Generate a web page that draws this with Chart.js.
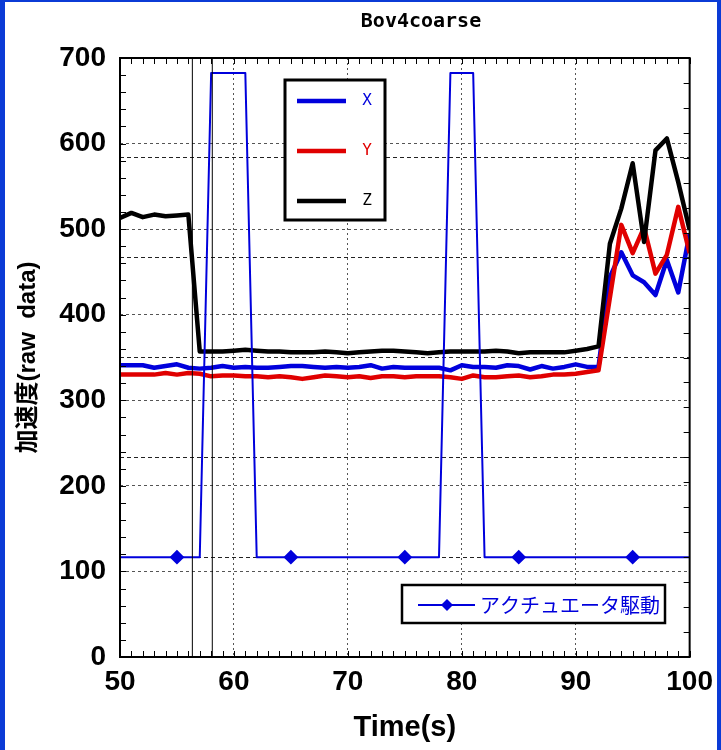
<!DOCTYPE html>
<html>
<head>
<meta charset="utf-8">
<script src="https://cdn.jsdelivr.net/npm/chart.js@4.4.1/dist/chart.umd.min.js"></script>
<style>
  body { margin: 0; background: #fff; }
  #wrap { position: relative; width: 721px; height: 750px; }
  #frame {
    position: absolute; left: 0; top: 0; width: 721px; height: 750px;
    box-sizing: border-box; pointer-events: none;
    border-left: 5px solid #0b3bd6; border-top: 2px solid #0b3bd6; border-right: 4px solid #0b3bd6;
  }
</style>
</head>
<body>
<div id="wrap">
  <canvas id="chart" width="721" height="750"></canvas>
  <div id="frame"></div>
</div>
<script>
// time axis (s)
const times = [50, 51, 52, 53, 54, 55, 56, 57, 58, 59, 60, 61, 62, 63, 64, 65, 66, 67, 68, 69,
  70, 71, 72, 73, 74, 75, 76, 77, 78, 79, 80, 81, 82, 83, 84, 85, 86, 87, 88, 89,
  90, 91, 92, 93, 94, 95, 96, 97, 98, 99, 100];

// acceleration raw data
const accX = [341, 341, 341, 338, 340, 342, 338, 337, 338, 340, 338, 339, 338, 338, 339, 340, 340, 339, 338, 339,
  338, 339, 341, 337, 339, 338, 338, 338, 338, 335, 341, 339, 339, 338, 341, 340, 336, 340, 337, 339,
  342, 339, 339, 444, 473, 446, 438, 423, 464, 426, 495];
const accY = [330, 330, 330, 330, 332, 330, 332, 331, 328, 329, 329, 328, 328, 327, 328, 327, 325, 327, 329, 328,
  327, 328, 326, 328, 328, 327, 328, 328, 328, 327, 325, 329, 327, 327, 328, 329, 327, 328, 330, 330,
  331, 333, 335, 420, 505, 472, 502, 448, 470, 526, 472];
const accZ = [513, 519, 514, 517, 515, 516, 517, 357, 357, 357, 358, 359, 358, 357, 357, 356, 356, 356, 357, 356,
  355, 356, 357, 358, 358, 357, 356, 355, 356, 357, 357, 357, 357, 358, 357, 355, 356, 356, 356, 356,
  358, 360, 363, 483, 524, 577, 485, 592, 606, 555, 499];

// actuator drive signal (right hidden axis)
const actTimes = [50, 55, 57, 58, 61, 62, 65, 75, 78, 79, 81, 82, 85, 95, 100];
const actValues = [1, 1, 1, 5.85, 5.85, 1, 1, 1, 1, 5.85, 5.85, 1, 1, 1, 1];
const actMarkers = [55, 65, 75, 85, 95];

// vertical cursor lines
const cursorTimes = [56.35, 58.1];

const xTicks = [50, 60, 70, 80, 90, 100];
const yTicks = [0, 100, 200, 300, 400, 500, 600, 700];

const BLUE = '#0000dc';
const RED = '#e00000';
const BLACK = '#000000';
const LATIN = "'Liberation Sans', Arial, sans-serif";
const JP = "'Liberation Sans', 'Noto Sans CJK JP', sans-serif";
const MONO = "'DejaVu Sans Mono', monospace";

function pts(xs, ys) {
    return xs.map((t, i) => ({ x: t, y: ys[i] }));
}

// inward minor ticks + plot frame
const frameTicks = {
    id: 'frameTicks',
    afterDatasetsDraw(chart) {
        const { ctx, chartArea: a, scales } = chart;
        ctx.save();
        ctx.strokeStyle = '#000';
        ctx.lineWidth = 1;
        ctx.beginPath();
        for (let t = 50; t <= 100; t += 1) {
            const px = Math.round(scales.x.getPixelForValue(t)) + 0.5;
            ctx.moveTo(px, a.top); ctx.lineTo(px, a.top + 6);
            ctx.moveTo(px, a.bottom); ctx.lineTo(px, a.bottom - 6);
        }
        for (let v = 0; v <= 700; v += 20) {
            const py = Math.round(scales.y.getPixelForValue(v)) + 0.5;
            ctx.moveTo(a.left, py); ctx.lineTo(a.left + 6, py);
        }
        for (let v = 0; v <= 6; v += 0.25) {
            const py = Math.round(scales.y2.getPixelForValue(v)) + 0.5;
            ctx.moveTo(a.right, py); ctx.lineTo(a.right - 6, py);
        }
        ctx.stroke();
        ctx.lineWidth = 2;
        ctx.strokeRect(a.left, a.top, a.right - a.left, a.bottom - a.top);
        ctx.restore();
    }
};

// title and the two boxed legends
const annotations = {
    id: 'annotations',
    afterDraw(chart) {
        const ctx = chart.ctx;
        ctx.save();
        ctx.fillStyle = '#000';
        ctx.font = 'bold 20px ' + MONO;
        ctx.textAlign = 'center';
        ctx.textBaseline = 'middle';
        ctx.fillText('Bov4coarse', 421, 22);

        // XYZ legend
        ctx.fillStyle = '#fff';
        ctx.fillRect(285, 80, 100, 140);
        ctx.lineWidth = 3;
        ctx.strokeStyle = '#000';
        ctx.strokeRect(285, 80, 100, 140);
        const items = [['X', BLUE, 101], ['Y', RED, 151], ['Z', BLACK, 201]];
        ctx.font = '16px ' + MONO;
        ctx.textAlign = 'center';
        items.forEach(([label, color, yy]) => {
            ctx.strokeStyle = color;
            ctx.lineWidth = 4.5;
            ctx.beginPath();
            ctx.moveTo(297, yy); ctx.lineTo(346, yy);
            ctx.stroke();
            ctx.fillStyle = color;
            ctx.fillText(label, 367, yy);
        });

        // actuator legend
        ctx.fillStyle = '#fff';
        ctx.fillRect(402, 585, 263, 38);
        ctx.lineWidth = 2.5;
        ctx.strokeStyle = '#000';
        ctx.strokeRect(402, 585, 263, 38);
        ctx.strokeStyle = BLUE;
        ctx.lineWidth = 2;
        ctx.beginPath();
        ctx.moveTo(418, 605); ctx.lineTo(475, 605);
        ctx.stroke();
        ctx.fillStyle = BLUE;
        ctx.beginPath();
        ctx.moveTo(447, 599); ctx.lineTo(453, 605); ctx.lineTo(447, 611); ctx.lineTo(441, 605);
        ctx.closePath();
        ctx.fill();
        ctx.font = "20px 'Noto Sans CJK JP', sans-serif";
        ctx.textAlign = 'left';
        ctx.fillText('アクチュエータ駆動', 480, 605);
        ctx.restore();
    }
};

const datasets = [
    ...cursorTimes.map(t => ({
        label: 'cursor',
        data: [{ x: t, y: 0 }, { x: t, y: 700 }],
        borderColor: BLACK, borderWidth: 1, pointRadius: 0, yAxisID: 'y', order: 0
    })),
    {
        label: 'アクチュエータ駆動',
        data: pts(actTimes, actValues),
        yAxisID: 'y2',
        borderColor: BLUE, backgroundColor: BLUE, borderWidth: 2,
        pointStyle: 'rectRot',
        pointRadius: c => actMarkers.includes(c.raw && c.raw.x) ? 6 : 0,
        order: 1
    },
    { label: 'Z', data: pts(times, accZ), borderColor: BLACK, borderWidth: 4.5, pointRadius: 0, yAxisID: 'y', order: 2 },
    { label: 'Y', data: pts(times, accY), borderColor: RED, borderWidth: 4.5, pointRadius: 0, yAxisID: 'y', order: 3 },
    { label: 'X', data: pts(times, accX), borderColor: BLUE, borderWidth: 4.5, pointRadius: 0, yAxisID: 'y', order: 4 }
];

new Chart(document.getElementById('chart'), {
    type: 'line',
    data: { datasets: datasets },
    plugins: [frameTicks, annotations],
    options: {
        responsive: false,
        animation: false,
        layout: { padding: { top: 58, left: 0, right: 0, bottom: 0 } },
        plugins: { legend: { display: false }, tooltip: { enabled: false }, title: { display: false } },
        elements: { line: { tension: 0, borderJoinStyle: 'round' } },
        scales: {
            x: {
                type: 'linear', min: 50, max: 100,
                afterBuildTicks: s => { s.ticks = xTicks.map(v => ({ value: v })); },
                afterFit: s => { s.height = 93; },
                ticks: { color: '#000', font: { family: LATIN, size: 28, weight: 'bold' }, padding: 8, maxRotation: 0 },
                grid: { color: '#555', lineWidth: 1, drawTicks: false },
                border: { display: false, dash: [2, 3] },
                title: { display: true, text: 'Time(s)', color: '#000', font: { family: LATIN, size: 29, weight: 'bold' }, padding: { top: 0, bottom: 5 } }
            },
            y: {
                type: 'linear', position: 'left', min: 0, max: 700,
                afterBuildTicks: s => { s.ticks = yTicks.map(v => ({ value: v })); },
                afterFit: s => { s.width = 120; },
                ticks: { color: '#000', font: { family: LATIN, size: 28, weight: 'bold' }, padding: 14 },
                grid: { color: '#555', lineWidth: 1, drawTicks: false },
                border: { display: false, dash: [3, 3] },
                title: { display: true, text: '加速度(raw  data)', color: '#000', font: { family: JP, size: 24, weight: 'bold' }, padding: { top: 14, bottom: 0 } }
            },
            y2: {
                type: 'linear', position: 'right', min: 0, max: 6,
                ticks: { display: false, stepSize: 1 },
                afterFit: s => { s.width = 31; },
                grid: { color: '#222', lineWidth: 1, drawTicks: false },
                border: { display: false, dash: [4, 3] }
            }
        }
    }
});
</script>
</body>
</html>
